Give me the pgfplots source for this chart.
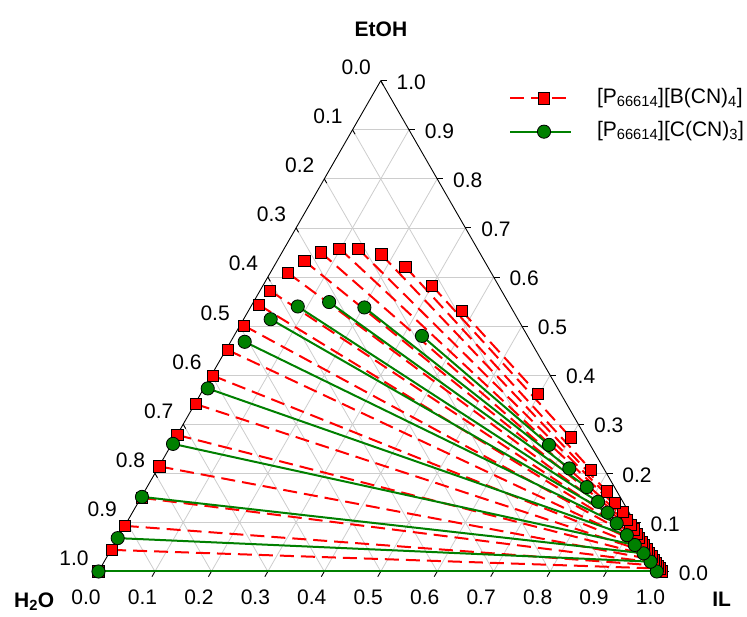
\documentclass[border=0pt]{standalone}
\usepackage{fontspec}
\setmainfont{Liberation Sans}
\usepackage{pgfplots}
\usepackage{pgfplotstable}
\pgfplotsset{compat=1.18}
\definecolor{tgreen}{RGB}{0,128,0}
\definecolor{tred}{RGB}{255,0,0}
\definecolor{tgrid}{RGB}{205,205,205}
\newcommand\lbl{\fontsize{21}{25}\selectfont}

% ternary fractions: il = IL, et = EtOH (water = 1 - il - et)
% L = water-rich phase, R = IL-rich phase (tie line ends)
\pgfplotstableread{
ilL   etL   ilR   etR
0.000 0.000 0.998 0.000
0.002 0.044 0.991 0.006
0.000 0.093 0.984 0.012
0.002 0.150 0.978 0.018
0.001 0.214 0.971 0.024
0.001 0.278 0.964 0.031
0.002 0.341 0.956 0.038
0.003 0.399 0.949 0.045
0.004 0.451 0.940 0.053
0.007 0.501 0.932 0.061
0.013 0.543 0.923 0.069
0.018 0.572 0.915 0.077
0.032 0.608 0.905 0.086
0.048 0.633 0.895 0.095
0.069 0.650 0.884 0.105
0.098 0.658 0.868 0.121
0.132 0.657 0.845 0.140
0.178 0.646 0.819 0.163
0.233 0.621 0.769 0.207
0.300 0.582 0.700 0.273
0.378 0.531 0.597 0.362
}\redtab

\pgfplotstableread{
ilL   etL   ilR   etR
0.000 0.000 0.989 0.000
0.000 0.068 0.968 0.020
0.001 0.152 0.947 0.037
0.002 0.260 0.923 0.054
0.007 0.373 0.899 0.074
0.025 0.468 0.869 0.098
0.048 0.514 0.842 0.120
0.083 0.540 0.814 0.142
0.134 0.549 0.779 0.172
0.202 0.538 0.729 0.210
0.333 0.480 0.669 0.258
}\greentab

% grid lines and triangle edges, in the same ternary fractions
\pgfplotstableread{
ilL etL ilR etR
0   0.1 0.9 0.1
0   0.2 0.8 0.2
0   0.3 0.7 0.3
0   0.4 0.6 0.4
0   0.5 0.5 0.5
0   0.6 0.4 0.6
0   0.7 0.3 0.7
0   0.8 0.2 0.8
0   0.9 0.1 0.9
0.1 0   0.1 0.9
0.2 0   0.2 0.8
0.3 0   0.3 0.7
0.4 0   0.4 0.6
0.5 0   0.5 0.5
0.6 0   0.6 0.4
0.7 0   0.7 0.3
0.8 0   0.8 0.2
0.9 0   0.9 0.1
0.9 0   0   0.9
0.8 0   0   0.8
0.7 0   0   0.7
0.6 0   0   0.6
0.5 0   0   0.5
0.4 0   0   0.4
0.3 0   0   0.3
0.2 0   0   0.2
0.1 0   0   0.1
}\gridtab

\pgfplotstableread{
ilL etL ilR etR
0 0 1 0
1 0 0 1
0 1 0 0
}\edgetab

\pgfplotstableread{
ilL etL
0 0
0.1 0
0.2 0
0.3 0
0.4 0
0.5 0
0.6 0
0.7 0
0.8 0
0.9 0
1 0
}\bottomticks

\pgfplotstableread{
ilL etL
0 1
0 0.9
0 0.8
0 0.7
0 0.6
0 0.5
0 0.4
0 0.3
0 0.2
0 0.1
0 0
}\leftticks

\pgfplotstableread{
ilL etL
1 0
0.9 0.1
0.8 0.2
0.7 0.3
0.6 0.4
0.5 0.5
0.4 0.6
0.3 0.7
0.2 0.8
0.1 0.9
0 1
}\rightticks

\pgfplotsset{
  table/ternL/.style={x expr=\thisrow{ilL}+0.5*\thisrow{etL}, y expr=0.8694*\thisrow{etL}},
  table/ternR/.style={x expr=\thisrow{ilR}+0.5*\thisrow{etR}, y expr=0.8694*\thisrow{etR}},
  tie/.style={quiver={u=\thisrow{ilR}+0.5*\thisrow{etR}-\thisrow{ilL}-0.5*\thisrow{etL}, v=0.8694*(\thisrow{etR}-\thisrow{etL})}},
}

\begin{document}
\begin{tikzpicture}
\begin{axis}[
  x=564.5pt, y=564.5pt,
  xmin=-0.17449, xmax=1.14880, ymin=-0.08060, ymax=1.01240,
  hide axis, clip=false,
  legend style={at={(axis cs:0.7272,0.8087)}, anchor=west, draw=none, fill=none,
    inner sep=0pt, outer sep=0pt, row sep=13.4pt,
    nodes={inner sep=0pt, text height=15pt, text depth=5pt, font=\lbl},
    /tikz/every odd column/.append style={column sep=25pt}},
  legend cell align=left,
  legend image code/.code={\draw[mark repeat=2,mark phase=2,#1] plot coordinates {(0pt,0pt) (34pt,0pt) (61pt,0pt)};},
]
% grid and frame
\addplot[tgrid, line width=0.8pt, no markers, forget plot, tie] table[ternL] \gridtab;
\addplot[black, line width=0.9pt, no markers, forget plot, tie] table[ternL] \edgetab;
\addplot[black, line width=0.9pt, no markers, forget plot, quiver={u=-0.0053,v=-0.0092}] table[ternL] \bottomticks;
\addplot[black, line width=0.9pt, no markers, forget plot, quiver={u=0.0044,v=-0.0077}] table[ternL] \leftticks;
\addplot[black, line width=0.9pt, no markers, forget plot, quiver={u=0.0106,v=0}] table[ternL] \rightticks;

% [P66614][B(CN)4]
\addplot[tred, line width=2pt, dash pattern=on 14pt off 7pt, no markers, forget plot, tie] table[ternL] \redtab;
\addplot[only marks, mark=square*, mark size=5.65pt, mark options={fill=tred, draw=black, line width=0.8pt}, forget plot] table[ternL] \redtab;
\addplot[only marks, mark=square*, mark size=5.65pt, mark options={fill=tred, draw=black, line width=0.8pt}, forget plot] table[ternR] \redtab;

% [P66614][C(CN)3]
\addplot[tgreen, line width=2pt, no markers, forget plot, tie] table[ternL] \greentab;
\addplot[only marks, mark=*, mark size=6.6pt, mark options={fill=tgreen, draw=black, line width=0.8pt}, forget plot] table[ternL] \greentab;
\addplot[only marks, mark=*, mark size=6.6pt, mark options={fill=tgreen, draw=black, line width=0.8pt}, forget plot] table[ternR] \greentab;

\addlegendimage{tred, line width=2pt, dash pattern=on 14pt off 7pt, mark=square*, mark size=5.65pt, mark options={solid, fill=tred, draw=black, line width=0.8pt}}
\addlegendentry{[P\textsubscript{66614}][B(CN)\textsubscript{4}]}
\addlegendimage{tgreen, line width=2pt, mark=*, mark size=6.6pt, mark options={fill=tgreen, draw=black, line width=0.8pt}}
\addlegendentry{[P\textsubscript{66614}][C(CN)\textsubscript{3}]}

% tick labels: bottom (IL)
\begin{scope}[every node/.style={font=\lbl, inner sep=0pt, anchor=center}]
\node[xshift=-12.5pt, yshift=-26pt] at (axis cs:0,0) {0.0};
\node[xshift=-12.5pt, yshift=-26pt] at (axis cs:0.1,0) {0.1};
\node[xshift=-12.5pt, yshift=-26pt] at (axis cs:0.2,0) {0.2};
\node[xshift=-12.5pt, yshift=-26pt] at (axis cs:0.3,0) {0.3};
\node[xshift=-12.5pt, yshift=-26pt] at (axis cs:0.4,0) {0.4};
\node[xshift=-12.5pt, yshift=-26pt] at (axis cs:0.5,0) {0.5};
\node[xshift=-12.5pt, yshift=-26pt] at (axis cs:0.6,0) {0.6};
\node[xshift=-12.5pt, yshift=-26pt] at (axis cs:0.7,0) {0.7};
\node[xshift=-12.5pt, yshift=-26pt] at (axis cs:0.8,0) {0.8};
\node[xshift=-12.5pt, yshift=-26pt] at (axis cs:0.9,0) {0.9};
\node[xshift=-12.5pt, yshift=-26pt] at (axis cs:1,0) {1.0};
% left (H2O)
\node[xshift=-24.5pt, yshift=13.3pt] at (axis cs:0.50,0.86940) {0.0};
\node[xshift=-24.5pt, yshift=13.3pt] at (axis cs:0.45,0.78246) {0.1};
\node[xshift=-24.5pt, yshift=13.3pt] at (axis cs:0.40,0.69552) {0.2};
\node[xshift=-24.5pt, yshift=13.3pt] at (axis cs:0.35,0.60858) {0.3};
\node[xshift=-24.5pt, yshift=13.3pt] at (axis cs:0.30,0.52164) {0.4};
\node[xshift=-24.5pt, yshift=13.3pt] at (axis cs:0.25,0.43470) {0.5};
\node[xshift=-24.5pt, yshift=13.3pt] at (axis cs:0.20,0.34776) {0.6};
\node[xshift=-24.5pt, yshift=13.3pt] at (axis cs:0.15,0.26082) {0.7};
\node[xshift=-24.5pt, yshift=13.3pt] at (axis cs:0.10,0.17388) {0.8};
\node[xshift=-24.5pt, yshift=13.3pt] at (axis cs:0.05,0.08694) {0.9};
\node[xshift=-24.5pt, yshift=13.3pt] at (axis cs:0.00,0.00000) {1.0};
% right (EtOH)
\node[xshift=30.5pt, yshift=-1.5pt] at (axis cs:1.00,0.00000) {0.0};
\node[xshift=30.5pt, yshift=-1.5pt] at (axis cs:0.95,0.08694) {0.1};
\node[xshift=30.5pt, yshift=-1.5pt] at (axis cs:0.90,0.17388) {0.2};
\node[xshift=30.5pt, yshift=-1.5pt] at (axis cs:0.85,0.26082) {0.3};
\node[xshift=30.5pt, yshift=-1.5pt] at (axis cs:0.80,0.34776) {0.4};
\node[xshift=30.5pt, yshift=-1.5pt] at (axis cs:0.75,0.43470) {0.5};
\node[xshift=30.5pt, yshift=-1.5pt] at (axis cs:0.70,0.52164) {0.6};
\node[xshift=30.5pt, yshift=-1.5pt] at (axis cs:0.65,0.60858) {0.7};
\node[xshift=30.5pt, yshift=-1.5pt] at (axis cs:0.60,0.69552) {0.8};
\node[xshift=30.5pt, yshift=-1.5pt] at (axis cs:0.55,0.78246) {0.9};
\node[xshift=30.5pt, yshift=-1.5pt] at (axis cs:0.50,0.86940) {1.0};
% corner titles
\node[anchor=base, font=\lbl\bfseries] at (axis cs:0.5004,0.9486) {EtOH};
\node[anchor=base, font=\lbl\bfseries] at (axis cs:-0.1139,-0.0634) {H\textsubscript{2}O};
\node[anchor=base, font=\lbl\bfseries] at (axis cs:1.1040,-0.0624) {IL};
\end{scope}
\end{axis}
\pgfresetboundingbox
\path[use as bounding box] (current axis.south west) rectangle (current axis.north east);
\end{tikzpicture}
\end{document}
